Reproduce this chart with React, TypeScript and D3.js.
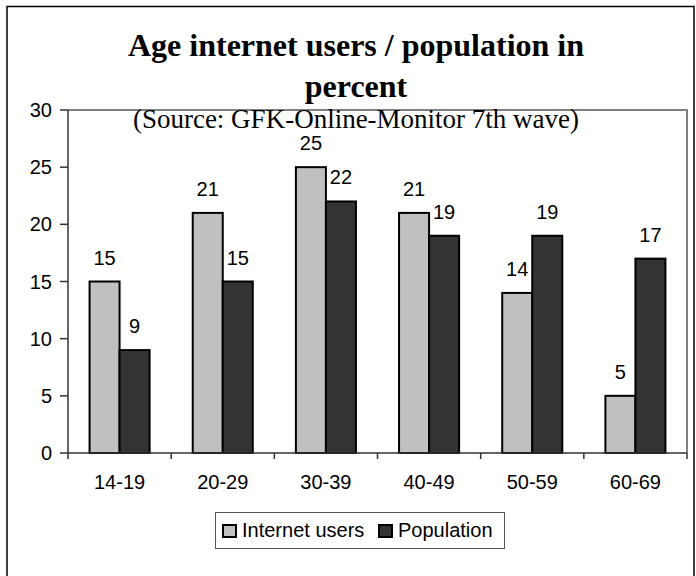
import * as d3 from 'd3'

const AGE_GROUPS = ['14-19', '20-29', '30-39', '40-49', '50-59', '60-69']
const INTERNET_USERS = [15, 21, 25, 21, 14, 5]
const POPULATION = [9, 15, 22, 19, 19, 17]
const Y_TICKS = [0, 5, 10, 15, 20, 25, 30]

const SERIES = [
  { name: 'Internet users', values: INTERNET_USERS, color: '#c0c0c0' },
  { name: 'Population', values: POPULATION, color: '#333333' },
]

const W = 696
const H = 576
const plot = { left: 68, top: 110, right: 687, bottom: 453 }
const SANS = '"Liberation Sans", Arial, sans-serif'
const SERIF = '"Liberation Serif", "Times New Roman", serif'

export default function App() {
  const x0 = d3.scaleBand<string>()
    .domain(AGE_GROUPS)
    .range([plot.left, plot.right])
    .paddingInner(0.418)
    .paddingOuter(0.209)
  const x1 = d3.scaleBand<string>()
    .domain(SERIES.map((s) => s.name))
    .range([0, x0.bandwidth()])
  const y = d3.scaleLinear().domain([0, 30]).range([plot.bottom, plot.top])
  const step = x0.step()
  const titleX = 356

  return (
    <div style={{ position: 'absolute', left: 0, top: 0 }}>
      <svg width={W} height={H} style={{ display: 'block', background: '#fff' }}>
        {/* outer frame */}
        <rect x={7} y={6.5} width={687} height={600} fill="none" stroke="#000" strokeWidth={1.5} />

        {/* title */}
        <text x={titleX} y={56} textAnchor="middle" fontFamily={SERIF} fontWeight="bold" fontSize={32}>
          Age internet users / population in
        </text>
        <text x={titleX} y={97} textAnchor="middle" fontFamily={SERIF} fontWeight="bold" fontSize={32}>
          percent
        </text>

        {/* plot area border */}
        <path
          d={`M${plot.left},${plot.top}H${plot.right}V${plot.bottom}`}
          fill="none"
          stroke="#808080"
          strokeWidth={2}
        />

        <text x={titleX} y={128} textAnchor="middle" fontFamily={SERIF} fontSize={27}>
          (Source: GFK-Online-Monitor 7th wave)
        </text>

        {/* bars */}
        {AGE_GROUPS.map((g, i) => (
          <g key={g} transform={`translate(${x0(g)},0)`}>
            {SERIES.map((s) => (
              <rect
                key={s.name}
                x={x1(s.name)}
                y={y(s.values[i])}
                width={x1.bandwidth()}
                height={y(0) - y(s.values[i])}
                fill={s.color}
                stroke="#000"
                strokeWidth={2}
              />
            ))}
            {SERIES.map((s) => (
              <text
                key={s.name + '-lbl'}
                x={(x1(s.name) ?? 0) + x1.bandwidth() / 2}
                y={y(s.values[i]) - 17}
                textAnchor="middle"
                fontFamily={SANS}
                fontSize={20}
              >
                {s.values[i]}
              </text>
            ))}
          </g>
        ))}

        {/* y axis */}
        <line x1={plot.left} x2={plot.left} y1={plot.top} y2={plot.bottom} stroke="#333" strokeWidth={1.5} />
        {Y_TICKS.map((t) => (
          <g key={t}>
            <line x1={plot.left - 8} x2={plot.left} y1={y(t)} y2={y(t)} stroke="#333" strokeWidth={1.5} />
            <text x={plot.left - 16} y={y(t) + 7} textAnchor="end" fontFamily={SANS} fontSize={20}>
              {t}
            </text>
          </g>
        ))}

        {/* x axis */}
        <line x1={plot.left} x2={plot.right} y1={plot.bottom} y2={plot.bottom} stroke="#333" strokeWidth={1.5} />
        {d3.range(AGE_GROUPS.length + 1).map((i) => (
          <line
            key={i}
            x1={plot.left + i * step}
            x2={plot.left + i * step}
            y1={plot.bottom}
            y2={plot.bottom + 6}
            stroke="#333"
            strokeWidth={1.5}
          />
        ))}
        {AGE_GROUPS.map((g) => (
          <text
            key={g}
            x={(x0(g) ?? 0) + x0.bandwidth() / 2}
            y={489}
            textAnchor="middle"
            fontFamily={SANS}
            fontSize={20}
          >
            {g}
          </text>
        ))}

        {/* legend */}
        <rect x={215.5} y={512.5} width={289} height={36} fill="#fff" stroke="#555" strokeWidth={1} />
        {SERIES.map((s, i) => {
          const lx = i === 0 ? 223 : 379
          return (
            <g key={s.name}>
              <rect x={lx} y={525} width={13} height={12} fill={s.color} stroke="#000" strokeWidth={2} />
              <text x={lx + 19} y={537} fontFamily={SANS} fontSize={20}>
                {s.name}
              </text>
            </g>
          )
        })}
      </svg>
    </div>
  )
}
